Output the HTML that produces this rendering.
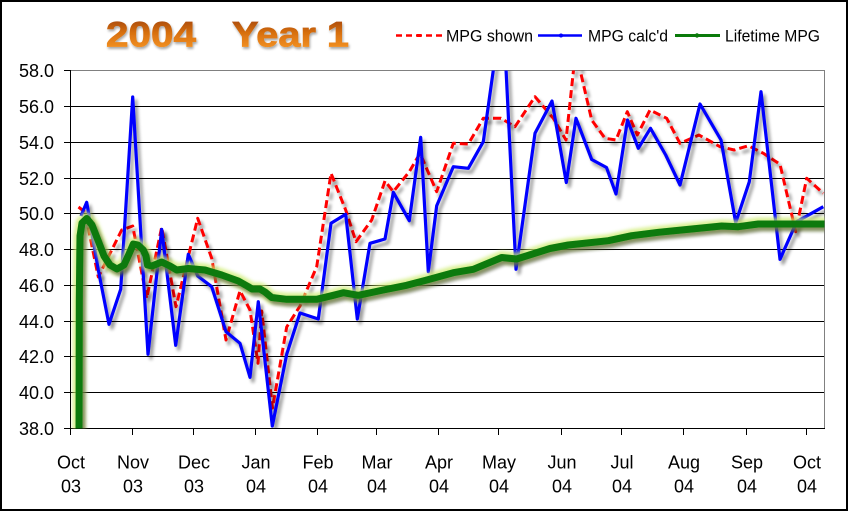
<!DOCTYPE html>
<html><head><meta charset="utf-8"><style>
html,body{margin:0;padding:0;background:#fff;}
svg{display:block;}
</style></head><body>
<svg width="850" height="512" viewBox="0 0 850 512" xmlns="http://www.w3.org/2000/svg">
<defs>
<linearGradient id="tg" x1="0" y1="0" x2="0" y2="1">
<stop offset="0" stop-color="#9a3e08"/>
<stop offset="0.45" stop-color="#d8700f"/>
<stop offset="0.85" stop-color="#f39224"/>
<stop offset="1" stop-color="#d77510"/>
</linearGradient>
<filter id="tsh" x="-10%" y="-20%" width="120%" height="150%">
<feGaussianBlur in="SourceAlpha" stdDeviation="1.2"/>
<feOffset dx="1" dy="2" result="o"/>
<feComponentTransfer><feFuncA type="linear" slope="0.35"/></feComponentTransfer>
<feMerge><feMergeNode/><feMergeNode in="SourceGraphic"/></feMerge>
</filter>
<filter id="sh" filterUnits="userSpaceOnUse" x="0" y="0" width="850" height="512">
<feGaussianBlur in="SourceAlpha" stdDeviation="1.6"/>
<feOffset dx="3" dy="4" result="o"/>
<feComponentTransfer><feFuncA type="linear" slope="0.4"/></feComponentTransfer>
<feMerge><feMergeNode/><feMergeNode in="SourceGraphic"/></feMerge>
</filter>
<filter id="glow" filterUnits="userSpaceOnUse" x="0" y="0" width="850" height="512">
<feGaussianBlur stdDeviation="1.8"/>
</filter>
<clipPath id="pc"><rect x="71" y="70.5" width="753.5" height="358"/></clipPath>
</defs>

<rect x="0" y="0" width="850" height="512" fill="#fff"/>
<rect x="1" y="1" width="846" height="509" fill="none" stroke="#000" stroke-width="2"/>

<!-- title -->
<g filter="url(#tsh)" font-family="'Liberation Sans', Arial, sans-serif" font-weight="bold" font-size="35" fill="url(#tg)" stroke="url(#tg)" stroke-width="0.8">
<text x="106" y="46.5" textLength="90" lengthAdjust="spacingAndGlyphs">2004</text>
<text x="232" y="46.5" textLength="117" lengthAdjust="spacingAndGlyphs">Year 1</text>
</g>

<!-- legend -->
<g font-family="'Liberation Sans', Arial, sans-serif" font-size="17" fill="#000">
<line x1="396" y1="35.5" x2="442" y2="35.5" stroke="#ff0000" stroke-width="2.5" stroke-dasharray="6 4"/>
<rect x="417" y="34" width="4" height="3" fill="#ff0000"/>
<text x="446" y="41.5" textLength="87" lengthAdjust="spacingAndGlyphs">MPG shown</text>
<line x1="538" y1="35.5" x2="582" y2="35.5" stroke="#0000ff" stroke-width="2.5"/>
<circle cx="561" cy="35.5" r="2" fill="#0000ff"/>
<text x="588" y="41.5" textLength="80" lengthAdjust="spacingAndGlyphs">MPG calc'd</text>
<line x1="675" y1="35.5" x2="720" y2="35.5" stroke="#0a7a0a" stroke-width="3"/>
<circle cx="697" cy="35.5" r="2.2" fill="#0a7a0a"/>
<text x="725" y="41.5" textLength="95" lengthAdjust="spacingAndGlyphs">Lifetime MPG</text>
</g>

<!-- grid -->
<g stroke="#000" stroke-width="1" shape-rendering="crispEdges">
<line x1="71" y1="106.5" x2="824" y2="106.5"/>
<line x1="71" y1="142.5" x2="824" y2="142.5"/>
<line x1="71" y1="178.5" x2="824" y2="178.5"/>
<line x1="71" y1="213.5" x2="824" y2="213.5"/>
<line x1="71" y1="249.5" x2="824" y2="249.5"/>
<line x1="71" y1="285.5" x2="824" y2="285.5"/>
<line x1="71" y1="321.5" x2="824" y2="321.5"/>
<line x1="71" y1="356.5" x2="824" y2="356.5"/>
<line x1="71" y1="392.5" x2="824" y2="392.5"/>
</g>
<g stroke="#808080" stroke-width="1" shape-rendering="crispEdges" fill="none">
<polyline points="71,70.5 824.5,70.5 824.5,428"/>
</g>
<g stroke="#000" stroke-width="1" shape-rendering="crispEdges">
<line x1="70.5" y1="70" x2="70.5" y2="429"/>
<line x1="70" y1="428.5" x2="825" y2="428.5"/>
<line x1="64" y1="70.5" x2="71" y2="70.5"/>
<line x1="64" y1="106.5" x2="71" y2="106.5"/>
<line x1="64" y1="142.5" x2="71" y2="142.5"/>
<line x1="64" y1="178.5" x2="71" y2="178.5"/>
<line x1="64" y1="213.5" x2="71" y2="213.5"/>
<line x1="64" y1="249.5" x2="71" y2="249.5"/>
<line x1="64" y1="285.5" x2="71" y2="285.5"/>
<line x1="64" y1="321.5" x2="71" y2="321.5"/>
<line x1="64" y1="356.5" x2="71" y2="356.5"/>
<line x1="64" y1="392.5" x2="71" y2="392.5"/>
<line x1="64" y1="428.5" x2="71" y2="428.5"/>
<line x1="70.5" y1="428" x2="70.5" y2="435"/>
<line x1="132.5" y1="428" x2="132.5" y2="435"/>
<line x1="193.5" y1="428" x2="193.5" y2="435"/>
<line x1="255.5" y1="428" x2="255.5" y2="435"/>
<line x1="317.5" y1="428" x2="317.5" y2="435"/>
<line x1="376.5" y1="428" x2="376.5" y2="435"/>
<line x1="438.5" y1="428" x2="438.5" y2="435"/>
<line x1="498.5" y1="428" x2="498.5" y2="435"/>
<line x1="561.5" y1="428" x2="561.5" y2="435"/>
<line x1="621.5" y1="428" x2="621.5" y2="435"/>
<line x1="683.5" y1="428" x2="683.5" y2="435"/>
<line x1="746.5" y1="428" x2="746.5" y2="435"/>
<line x1="806.5" y1="428" x2="806.5" y2="435"/>
</g>

<!-- y labels -->
<g font-family="'Liberation Sans', Arial, sans-serif" font-size="18" fill="#000" text-anchor="end">
<text x="54" y="77">58.0</text>
<text x="54" y="113">56.0</text>
<text x="54" y="149">54.0</text>
<text x="54" y="185">52.0</text>
<text x="54" y="220">50.0</text>
<text x="54" y="256">48.0</text>
<text x="54" y="292">46.0</text>
<text x="54" y="328">44.0</text>
<text x="54" y="363">42.0</text>
<text x="54" y="399">40.0</text>
<text x="54" y="435">38.0</text>
</g>

<!-- x labels -->
<g font-family="'Liberation Sans', Arial, sans-serif" font-size="18" fill="#000" text-anchor="middle">
<text x="71" y="468.5">Oct</text><text x="71" y="492.5">03</text>
<text x="133" y="468.5">Nov</text><text x="133" y="492.5">03</text>
<text x="194" y="468.5">Dec</text><text x="194" y="492.5">03</text>
<text x="256" y="468.5">Jan</text><text x="256" y="492.5">04</text>
<text x="318" y="468.5">Feb</text><text x="318" y="492.5">04</text>
<text x="377" y="468.5">Mar</text><text x="377" y="492.5">04</text>
<text x="439" y="468.5">Apr</text><text x="439" y="492.5">04</text>
<text x="499" y="468.5">May</text><text x="499" y="492.5">04</text>
<text x="562" y="468.5">Jun</text><text x="562" y="492.5">04</text>
<text x="622" y="468.5">Jul</text><text x="622" y="492.5">04</text>
<text x="684" y="468.5">Aug</text><text x="684" y="492.5">04</text>
<text x="747" y="468.5">Sep</text><text x="747" y="492.5">04</text>
<text x="807" y="468.5">Oct</text><text x="807" y="492.5">04</text>
</g>

<g clip-path="url(#pc)">
<g filter="url(#sh)">
<polyline fill="none" stroke="#ff0000" stroke-width="3" stroke-dasharray="8 4" stroke-linejoin="round"
points="78.5,207 85,212 98.3,277 121.7,230 132.7,226 146.7,298.3 161.7,227.3 176,306.7 197.7,218.3 211.7,258.3 226,340 240,290.7 250,310 258,363.3 261.7,311 272.5,408 286.7,327 300,306 316.7,266.7 331,173.3 345.7,210 356,241.7 371.7,220 385,181 393.3,191.7 409.3,171.7 420,153.3 436.7,191.7 453.3,143.3 468.3,144 483.3,118.3 501,118.3 515,126.7 535,96.7 553.3,118.3 566,140 575.6,50.7 591.7,120 605,138.3 616,140 627.3,111.7 637.3,135 650,110 666.7,118.3 680,143.3 699,135 720,146.7 734.3,150 748.3,145.7 763.3,153.3 780,164.3 795.7,231.7 806.7,178.3 823.3,193.3"/>
</g>
<g filter="url(#sh)">
<polyline fill="none" stroke="#0000ff" stroke-width="3.2" stroke-linejoin="round"
points="81,216 86.7,202.3 98.3,270 109,324.3 120.7,289.3 132.7,97 148,354.3 161.7,229.3 175.7,345.3 188.3,254.3 197.7,276 211.7,286.7 226,331.7 240,343.3 250,377.3 258.3,301.7 272.3,426 286.7,354.3 300,313 318.3,319 331,223.3 345.7,214.3 357.3,319 370,243.3 385,239 393.3,192.3 409.3,220.7 420.7,137.3 428.3,271.7 436.7,205.7 453.3,166.7 468.3,168.3 483.3,141.7 502.7,3 516,269.3 535,133.3 552,101 566.3,182.5 576,118.3 591.7,159.5 606.5,167.5 616,194 627.5,120 638.3,148.3 650.5,128.3 665.7,155 680,185 700,104 721,140 735.7,222.7 749.3,181.7 761,91.7 780,259.3 796.7,221.7 823.3,206.7"/>
</g>
<polyline fill="none" stroke="#cdec70" stroke-width="13" stroke-linejoin="round" stroke-linecap="round" filter="url(#glow)" opacity="0.75"
points="79,432 79.3,300 80,236 82,223 86.7,218.5 92,225 98.3,241 104,256 110,265 117,269 124,265 129,254 133.3,244 138,245 143.3,250 146,256 147.5,265 152,266 161.7,262 170,266 176.7,270 188.3,268.5 205,270 221.7,275 238.3,281 248,286.5 252,289 260,289 265,292 271.7,297.5 286.7,299.3 316.7,299.3 333.3,295.3 343.3,292.7 358.3,295.3 383.3,290 406.7,285.3 425,280.5 453.3,272.7 473.3,269.3 501.7,257.5 516.7,259 550,248.5 568.3,245 608.3,240.7 631.7,235.7 658.3,232.3 691.7,229 721.7,226 738.3,226.7 758.3,224 791.7,224 826,224"/>
<g filter="url(#sh)">
<polyline fill="none" stroke="#0a7a0a" stroke-width="7" stroke-linejoin="round"
points="79,432 79.3,300 80,236 82,223 86.7,218.5 92,225 98.3,241 104,256 110,265 117,269 124,265 129,254 133.3,244 138,245 143.3,250 146,256 147.5,265 152,266 161.7,262 170,266 176.7,270 188.3,268.5 205,270 221.7,275 238.3,281 248,286.5 252,289 260,289 265,292 271.7,297.5 286.7,299.3 316.7,299.3 333.3,295.3 343.3,292.7 358.3,295.3 383.3,290 406.7,285.3 425,280.5 453.3,272.7 473.3,269.3 501.7,257.5 516.7,259 550,248.5 568.3,245 608.3,240.7 631.7,235.7 658.3,232.3 691.7,229 721.7,226 738.3,226.7 758.3,224 791.7,224 826,224"/>
</g>
</g>
</svg>
</body></html>
